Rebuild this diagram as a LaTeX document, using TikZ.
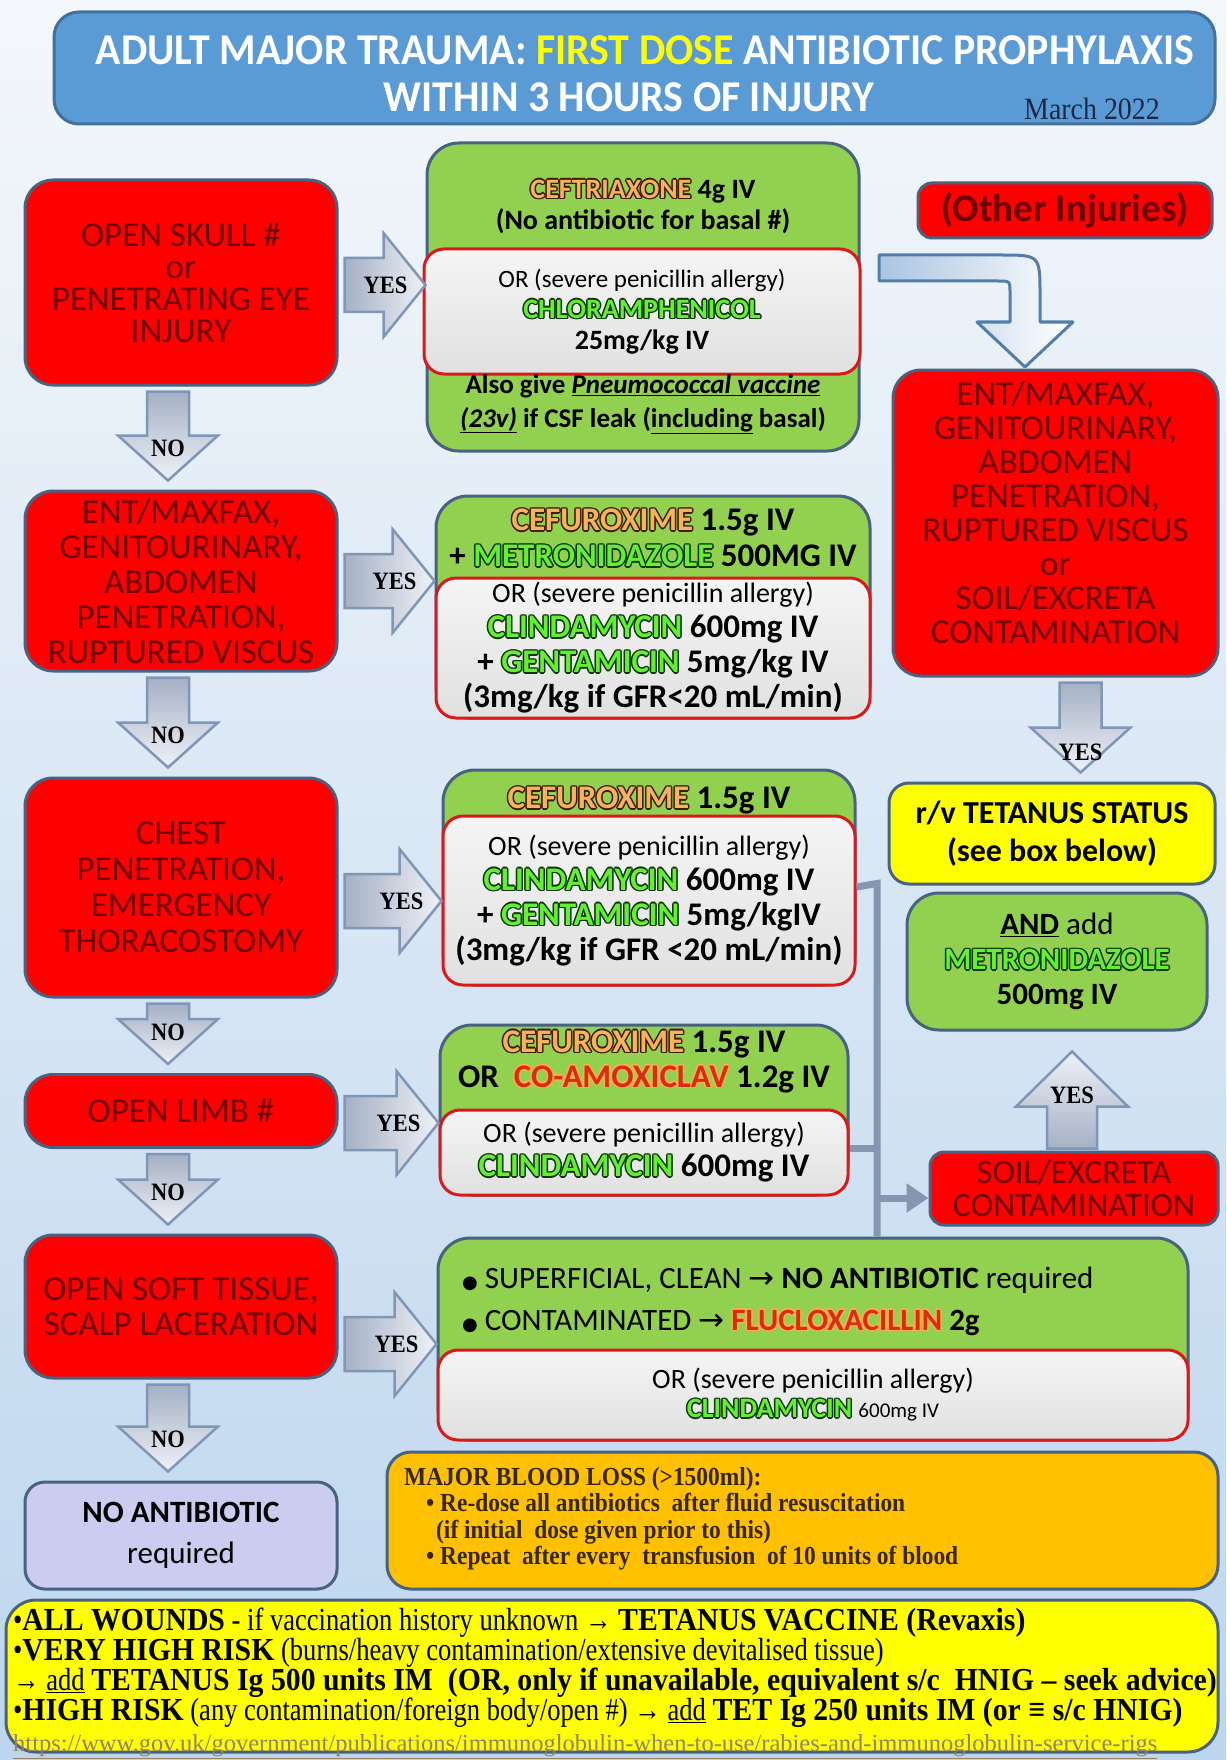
\documentclass[tikz,border=0pt]{standalone}
\usepackage{fontspec}
\setmainfont{Carlito}
\newfontfamily\titlefont{Carlito}[FakeStretch=0.95]
\newfontfamily\condserif{Liberation Serif}[FakeStretch=0.9]
\newfontfamily\tetreg{Liberation Serif}[FakeStretch=0.83]
\newfontfamily\tetboldfam{Liberation Serif}[FakeStretch=0.93]
\newfontfamily\labelfont{Liberation Serif}[FakeStretch=0.9]
\newfontfamily\urlfont{Liberation Serif}
\newfontfamily\symfont{DejaVu Sans}
\usetikzlibrary{arrows.meta}

\definecolor{bgtop}{RGB}{244,247,251}
\definecolor{bgbottom}{RGB}{189,214,238}
\definecolor{titleblue}{RGB}{91,155,213}
\definecolor{titleedge}{RGB}{65,113,156}
\definecolor{edgeblue}{RGB}{72,98,130}
\definecolor{boxred}{RGB}{255,0,0}
\definecolor{redtext}{RGB}{110,0,0}
\definecolor{boxgreen}{RGB}{146,208,80}
\definecolor{allergyred}{RGB}{220,25,25}
\definecolor{boxyellow}{RGB}{255,255,0}
\definecolor{boxorange}{RGB}{255,192,0}
\definecolor{boxlav}{RGB}{204,204,240}
\definecolor{arrowdark}{RGB}{165,176,196}
\definecolor{arrowlight}{RGB}{238,241,247}
\definecolor{arrowedge}{RGB}{128,150,182}
\definecolor{linkgray}{RGB}{132,151,176}
\definecolor{curveblue}{RGB}{170,196,226}
\definecolor{curveedge}{RGB}{84,126,170}
\definecolor{drugorange}{RGB}{248,178,92}
\definecolor{drugbrown}{RGB}{60,30,5}
\definecolor{druggreen}{RGB}{100,240,50}
\definecolor{drugdark}{RGB}{15,55,10}
\definecolor{drugred}{RGB}{215,45,20}
\definecolor{drugglow}{RGB}{255,175,70}
\definecolor{navytext}{RGB}{30,40,70}
\definecolor{bloodtext}{RGB}{55,40,10}
\definecolor{urlbrown}{RGB}{150,130,100}

% 縁取り文字
\newcommand\olc[3]{\makebox[0pt][l]{\hspace*{#1}\raisebox{#2}{#3}}}
\newcommand\drug[3]{{\color{#2}\olc{1.5pt}{0pt}{#3}\olc{-1.5pt}{0pt}{#3}\olc{0pt}{1.5pt}{#3}\olc{0pt}{-1.5pt}{#3}%
  \olc{1pt}{1pt}{#3}\olc{-1pt}{1pt}{#3}\olc{1pt}{-1pt}{#3}\olc{-1pt}{-1pt}{#3}}\textcolor{#1}{#3}}
\newcommand\orng[1]{\drug{drugorange}{drugbrown}{#1}}
\newcommand\grn[1]{\drug{druggreen}{drugdark}{#1}}
\newcommand\tb[1]{{\tetboldfam\bfseries #1}}

% 右向きの矢印 (YES)
\newcommand\yesright[4]{%
  \coordinate (#4s) at ([xshift=6pt,yshift=#3]#1.east);
  \coordinate (#4e) at (#4s -| #2.west);
  \path[blockarrow, left color=arrowdark, right color=arrowlight]
    ([yshift=27pt]#4s) -- ([xshift=-42pt,yshift=27pt]#4e) -- ([xshift=-42pt,yshift=52pt]#4e)
    -- (#4e) -- ([xshift=-42pt,yshift=-52pt]#4e) -- ([xshift=-42pt,yshift=-27pt]#4e)
    -- ([yshift=-27pt]#4s) -- cycle;
  \node[arrowlabel] (#4) at ([xshift=-40pt]#4e) {YES};
}
% 下向きの矢印
\newcommand\nodown[6]{%
  \coordinate (#4s) at ([xshift=#3,yshift=-5pt]#1.south);
  \coordinate (#4t) at (#4s |- #2.north);
  \coordinate (#4e) at ([yshift=9pt]#4t);
  \path[blockarrow, top color=arrowdark, bottom color=arrowlight]
    ([xshift=-21pt]#4s) -- ([xshift=-21pt,yshift=45pt]#4e) -- ([xshift=-50pt,yshift=45pt]#4e)
    -- (#4e) -- ([xshift=50pt,yshift=45pt]#4e) -- ([xshift=21pt,yshift=45pt]#4e)
    -- ([xshift=21pt]#4s) -- cycle;
  \node[arrowlabel] (#4) at ([yshift=#6]#4e) {#5};
}
% 上向きの矢印
\newcommand\yesup[5]{%
  \coordinate (#4s) at ([xshift=#3,yshift=2pt]#1.north);
  \coordinate (#4t) at (#4s |- #2.south);
  \coordinate (#4e) at ([yshift=-20pt]#4t);
  \path[blockarrow, bottom color=arrowdark, top color=arrowlight]
    ([xshift=-25pt]#4s) -- ([xshift=-25pt,yshift=-55pt]#4e) -- ([xshift=-56pt,yshift=-55pt]#4e)
    -- (#4e) -- ([xshift=56pt,yshift=-55pt]#4e) -- ([xshift=25pt,yshift=-55pt]#4e)
    -- ([xshift=25pt]#4s) -- cycle;
  \node[arrowlabel] (#4) at ([yshift=-44pt]#4e) {#5};
}

\tikzset{
  sz/.style 2 args={minimum width=#1pt, minimum height=#2pt},
  redbox/.style={draw=edgeblue, fill=boxred, line width=3pt, rounded corners=28pt, text=redtext,
    align=center, inner sep=0pt, font=\fontsize{35}{35}\selectfont},
  greenbox/.style={draw=edgeblue, fill=boxgreen, line width=3pt, rounded corners=32pt, inner sep=0pt},
  graybox/.style={draw=allergyred, line width=3pt, rounded corners=20pt, top color=gray!8,
    bottom color=gray!24, align=center, inner sep=0pt},
  txt/.style={align=center, inner sep=0pt},
  blockarrow/.style={draw=arrowedge, line width=2.5pt, line join=miter},
  arrowlabel/.style={inner sep=0pt, font=\labelfont\bfseries\fontsize{25}{25}\selectfont},
  link/.style={draw=linkgray, line width=7pt},
}

\begin{document}
\begin{tikzpicture}[x=1pt,y=-1pt]
\useasboundingbox (0,0) rectangle (1226,1760);
\shade[top color=bgtop, bottom color=bgbottom] (0,0) rectangle (1226,1760); % 背景

% タイトル
\node[draw=titleedge, fill=titleblue, line width=3pt, rounded corners=25pt, sz={1161}{112}] (title) at (634.5,68) {};
\node[inner sep=0pt, text=white, font=\titlefont\bfseries\fontsize{44}{44}\selectfont] (titleA) at (645,50)
  {ADULT MAJOR TRAUMA: \textcolor{boxyellow}{FIRST DOSE} ANTIBIOTIC PROPHYLAXIS};
\node[inner sep=0pt, text=white, font=\titlefont\bfseries\fontsize{44}{44}\selectfont] (titleB) at (629,97)
  {WITHIN 3 HOURS OF INJURY};
\node[inner sep=0pt, text=navytext, font=\condserif\fontsize{31}{31}\selectfont] (march) at (1092,109) {March 2022};

% 左の列
\node[redbox, sz={312}{205}, font=\fontsize{35}{32}\selectfont] (red1) at (181,282.5)
  {OPEN SKULL \#\\or\\PENETRATING EYE\\INJURY};
\node[redbox, sz={312}{180}] (red2) at (181,581)
  {ENT/MAXFAX,\\GENITOURINARY,\\ABDOMEN\\PENETRATION,\\RUPTURED VISCUS};
\node[redbox, sz={312}{219}, font=\fontsize{35}{36}\selectfont] (red3) at (181,887.5)
  {CHEST\\PENETRATION,\\EMERGENCY\\THORACOSTOMY};
\node[redbox, sz={312}{73}] (red4) at (181,1111) {OPEN LIMB \#};
\node[redbox, sz={312}{143}] (red5) at (181,1306.5) {OPEN SOFT TISSUE,\\SCALP LACERATION};
\node[draw=edgeblue, fill=boxlav, line width=3pt, rounded corners=20pt, sz={312}{107}, align=center,
  inner sep=0pt, font=\fontsize{31}{41}\selectfont] (noab) at (181,1535.5) {\textbf{NO ANTIBIOTIC}\\required};

% 1段目
\node[greenbox, sz={432}{308}] (green1) at (643,297) {};
\node[graybox, sz={436}{125}, font=\bfseries\fontsize{28}{31}\selectfont] (gray1) at (642,311.5)
  {{\mdseries\fontsize{25}{31}\selectfont OR (severe penicillin allergy)}\\\grn{CHLORAMPHENICOL}\\25mg/kg IV};
\node[txt, font=\bfseries\fontsize{28}{31}\selectfont] (g1a) at (643,206)
  {\orng{CEFTRIAXONE} 4g IV\\(No antibiotic for basal \#)};
\node[txt, font=\bfseries\fontsize{27}{34}\selectfont] (g1c) at (643,404)
  {Also give \underline{\textit{Pneumococcal vaccine}}\\\underline{\textit{(23v)}} if CSF leak (\underline{including} basal)};

% 2段目
\node[greenbox, sz={434}{222}] (green2) at (653,607) {};
\node[graybox, sz={434}{140}, font=\bfseries\fontsize{33}{35}\selectfont] (gray2) at (653,648)
  {{\mdseries\fontsize{28}{35}\selectfont OR (severe penicillin allergy)}\\\grn{CLINDAMYCIN} 600mg IV\\
   + \grn{GENTAMICIN} 5mg/kg IV\\(3mg/kg if GFR<20 mL/min)};
\node[txt, font=\bfseries\fontsize{33}{36}\selectfont] (g2a) at (653,538)
  {\orng{CEFUROXIME} 1.5g IV\\+ \grn{METRONIDAZOLE} 500MG IV};

% 3段目
\node[greenbox, sz={412}{215}] (green3) at (649,877.5) {};
\node[graybox, sz={412}{169}, font=\bfseries\fontsize{33}{35}\selectfont] (gray3) at (649,900.5)
  {{\mdseries\fontsize{28}{35}\selectfont OR (severe penicillin allergy)}\\\grn{CLINDAMYCIN} 600mg IV\\
   + \grn{GENTAMICIN} 5mg/kgIV\\(3mg/kg if GFR <20 mL/min)};
\node[txt, font=\bfseries\fontsize{33}{36}\selectfont] (g3a) at (649,800) {\orng{CEFUROXIME} 1.5g IV};

% 4段目
\node[greenbox, sz={408}{170}] (green4) at (644,1110) {};
\node[graybox, sz={408}{85}, font=\bfseries\fontsize{33}{34}\selectfont] (gray4) at (644,1152.5)
  {{\mdseries\fontsize{28}{34}\selectfont OR (severe penicillin allergy)}\\\grn{CLINDAMYCIN} 600mg IV};
\node[txt, font=\bfseries\fontsize{33}{35}\selectfont] (g4a) at (644,1061)
  {\orng{CEFUROXIME} 1.5g IV\\OR\ \ \drug{drugred}{drugglow}{CO-AMOXICLAV} 1.2g IV};

% 5段目
\node[greenbox, sz={750}{202}] (green5) at (813,1339) {};
\node[graybox, sz={750}{90}, font=\bfseries\fontsize{28}{29}\selectfont] (gray5) at (813,1395)
  {{\mdseries OR (severe penicillin allergy)}\\\grn{CLINDAMYCIN} {\mdseries\fontsize{21}{29}\selectfont 600mg IV}};
\node[anchor=west, align=left, inner sep=0pt, font=\fontsize{31}{42}\selectfont] (g5a) at (462,1301)
  {{\symfont\fontsize{18}{18}\selectfont ●} SUPERFICIAL, CLEAN {\symfont →} \textbf{NO ANTIBIOTIC} required\\
   {\symfont\fontsize{18}{18}\selectfont ●} CONTAMINATED {\symfont →} \textbf{\drug{drugred}{drugglow}{FLUCLOXACILLIN} 2g}};

% 右の列
\node[redbox, sz={294}{55}, font=\bfseries\fontsize{39}{39}\selectfont, rounded corners=14pt] (other) at (1065,210.5) {(Other Injuries)};
\node[redbox, sz={325}{306}] (redR) at (1055.5,523) {};
\node[txt, text=redtext, font=\fontsize{35}{34}\selectfont] (redRtxt) at (1055.5,512)
  {ENT/MAXFAX,\\GENITOURINARY,\\ABDOMEN\\PENETRATION,\\RUPTURED VISCUS\\or\\SOIL/EXCRETA\\CONTAMINATION};
\node[draw=edgeblue, fill=boxyellow, line width=3pt, rounded corners=20pt, sz={326}{101}, align=center,
  inner sep=0pt, font=\bfseries\fontsize{32}{38}\selectfont] (tet) at (1052,833.5) {r/v TETANUS STATUS\\(see box below)};
\node[greenbox, sz={300}{137}, align=center, font=\bfseries\fontsize{31}{35}\selectfont] (metro) at (1057,961.5)
  {\underline{AND} {\mdseries add}\\\grn{METRONIDAZOLE}\\500mg IV};
\node[redbox, sz={288}{73}, rounded corners=14pt, font=\fontsize{34}{33}\selectfont] (soil) at (1074,1188.5)
  {SOIL/EXCRETA\\CONTAMINATION};

% 下の箱
\node[draw=edgeblue, fill=boxorange, line width=3pt, rounded corners=24pt, sz={831}{137}] (blood) at (802.5,1520.5) {};
\node[anchor=west, align=left, inner sep=0pt, text=bloodtext, font=\condserif\bfseries\fontsize{26}{26.5}\selectfont] (bloodtxt) at (404,1519)
  {MAJOR BLOOD LOSS (>1500ml):\\
   \hspace*{22pt}• Re-dose all antibiotics\ \ after fluid resuscitation\\
   \hspace*{32pt}(if initial\ \ dose given prior to this)\\
   \hspace*{22pt}• Repeat\ \ after every\ \ transfusion\ \ of 10 units of blood};
\node[draw=edgeblue, fill=boxyellow, line width=3pt, rounded corners=30pt, sz={1212}{152}] (tetbox) at (612,1676) {};
\node[anchor=west, align=left, inner sep=0pt, font=\tetreg\fontsize{32}{30.3}\selectfont] (tettxt) at (13,1683)
  {•\tb{ALL WOUNDS} - if vaccination history unknown → \tb{TETANUS VACCINE (Revaxis)}\\
   •\tb{VERY HIGH RISK} (burns/heavy contamination/extensive devitalised tissue)\\
   → \underline{add} \tb{TETANUS Ig 500 units IM\ \ (OR, only if unavailable, equivalent s/c\ \ HNIG – seek advice)}\\
   •\tb{HIGH RISK} (any contamination/foreign body/open \#) → \underline{add} \tb{TET Ig 250 units IM (or ≡ s/c HNIG)}\\
   {\urlfont\fontsize{24.5}{26}\selectfont\color{urlbrown}\underline{https://www.gov.uk/government/publications/immunoglobulin-when-to-use/rabies-and-immunoglobulin-service-rigs}}};

% 矢印
\yesright{red1}{green1}{-2.5pt}{yes1}
\yesright{red2}{green2}{0pt}{yes2}
\yesright{red3}{green3}{-13.5pt}{yes3}
\yesright{red4}{green4}{-12pt}{yes4}
\yesright{red5}{green5}{-37.5pt}{yes5}
\nodown{red1}{red2}{-13pt}{no1}{NO}{32pt}
\nodown{red2}{red3}{-13pt}{no2}{NO}{32pt}
\nodown{red3}{red4}{-13pt}{no3}{NO}{32pt}
\nodown{red4}{red5}{-13pt}{no4}{NO}{32pt}
\nodown{red5}{noab}{-13pt}{no5}{NO}{32pt}
\nodown{redR}{tet}{25pt}{yesR}{YES}{20pt}
\yesup{soil}{metro}{-2pt}{yesS}{YES}

% 曲がった矢印 (Other Injuries)
\path[draw=curveedge, line width=3pt, left color=curveblue, right color=white, line join=round]
  (879,255) -- (1000,255) .. controls (1040,255) .. (1040,295) -- (1040,322) -- (1073,322)
  -- (1025,367) -- (977,322) -- (1010,322) -- (1010,293) .. controls (1010,281) .. (998,281) -- (879,281) -- cycle;

% 灰色の線
\coordinate (trunk) at (877,887);
\coordinate (joint4) at (877,1148);
\coordinate (joint5) at (877,1198);
\draw[link] (gray3.east |- trunk) -- ([yshift=3.5pt]trunk) -- (trunk |- green5.north);
\draw[link] (gray4.east |- joint4) -- (joint4);
\draw[link, -{Triangle[length=22pt,width=28pt]}] (joint5) -- (soil.west |- joint5);
\end{tikzpicture}
\end{document}
